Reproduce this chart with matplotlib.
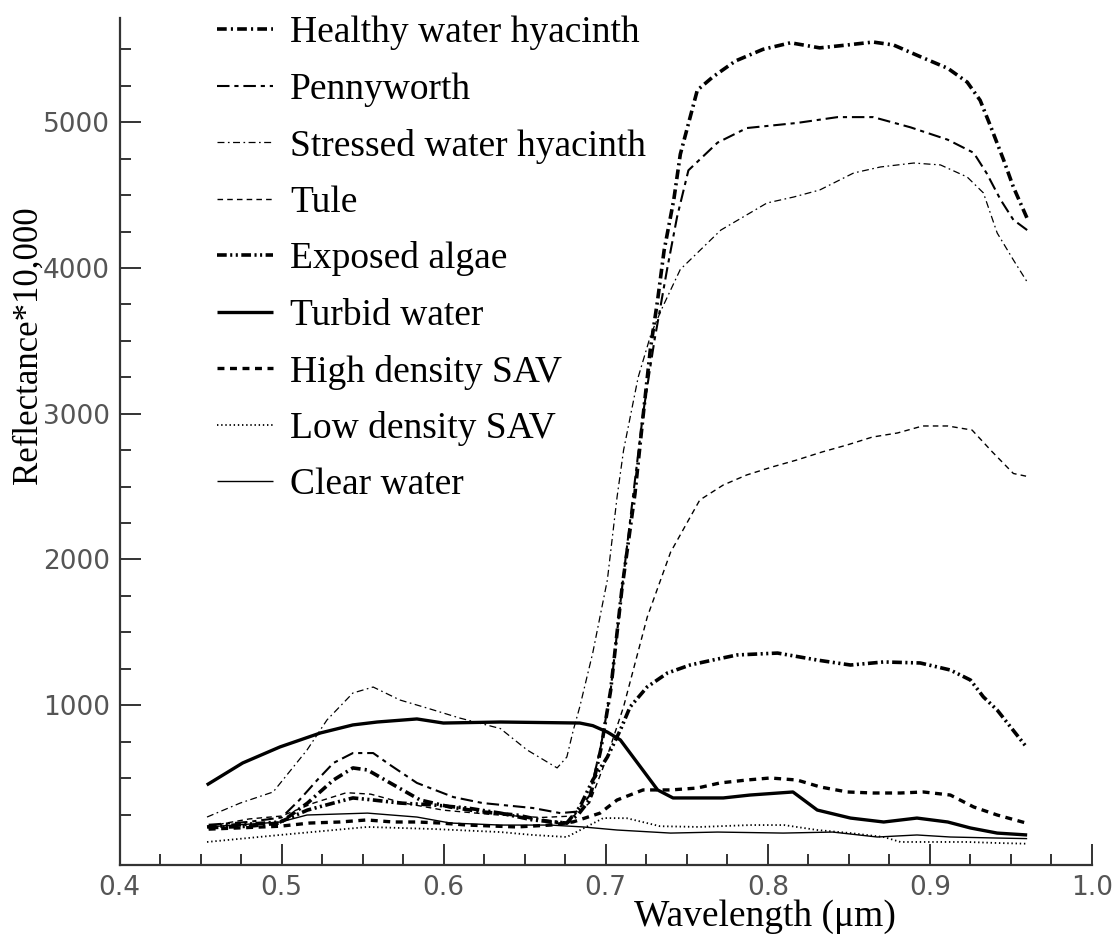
import matplotlib
matplotlib.use("Agg")
import matplotlib.pyplot as plt
from matplotlib.ticker import MultipleLocator, FixedLocator

plt.rcParams['lines.scale_dashes'] = False

# ---------------- data (wavelength in um, reflectance*10,000) ----------------
hwh_w = [0.455, 0.48, 0.499, 0.516, 0.532, 0.544, 0.553, 0.567, 0.5855, 0.604, 0.624, 0.645, 0.666, 0.676, 0.683,
         0.69, 0.697, 0.703, 0.71, 0.718, 0.723, 0.7275, 0.732, 0.736, 0.742, 0.746, 0.7565, 0.766, 0.78, 0.797,
         0.814, 0.832, 0.849, 0.865, 0.8775, 0.894, 0.911, 0.923, 0.931, 0.9375, 0.9455, 0.9515, 0.96]
hwh_v = [160, 170, 192, 329, 487, 570, 556, 467, 350, 302, 268, 247, 199, 192, 250,
         350, 700, 1100, 1800, 2450, 2980, 3440, 3780, 4120, 4470, 4780, 5220, 5310, 5420, 5500,
         5545, 5510, 5530, 5550, 5530, 5450, 5370, 5275, 5150, 4970, 4740, 4555, 4340]

pen_w = [0.455, 0.48, 0.5, 0.511, 0.522, 0.532, 0.544, 0.5565, 0.567, 0.5835, 0.606, 0.624, 0.655, 0.672, 0.682,
         0.69, 0.697, 0.703, 0.71, 0.717, 0.723, 0.73, 0.738, 0.744, 0.751, 0.769, 0.787, 0.818, 0.843, 0.865,
         0.888, 0.911, 0.927, 0.935, 0.9435, 0.9515, 0.96]
pen_v = [180, 200, 230, 350, 487, 604, 672, 672, 590, 467, 370, 329, 295, 260, 270,
         380, 720, 1100, 1800, 2450, 3000, 3500, 4000, 4350, 4670, 4860, 4960, 4995, 5035, 5035,
         4965, 4880, 4790, 4650, 4470, 4330, 4260]

swh_w = [0.454, 0.4745, 0.4948, 0.5157, 0.528, 0.544, 0.5565, 0.573, 0.5897, 0.61, 0.635, 0.6515, 0.67, 0.676,
         0.68, 0.684, 0.692, 0.701, 0.707, 0.711, 0.72, 0.728, 0.735, 0.746, 0.771, 0.7995, 0.816, 0.832, 0.853,
         0.8695, 0.89, 0.9065, 0.923, 0.933, 0.9415, 0.9515, 0.96]
swh_v = [233, 329, 405, 693, 899, 1084, 1125, 1036, 981, 912, 840, 693, 570, 645,
         830, 990, 1360, 1860, 2430, 2750, 3250, 3550, 3730, 3990, 4260, 4446, 4487, 4535, 4652,
         4693, 4720, 4707, 4624, 4515, 4240, 4055, 3904]

tule_w = [0.455, 0.48, 0.5, 0.52, 0.54, 0.555, 0.575, 0.6, 0.63, 0.66, 0.68, 0.69, 0.70, 0.711, 0.7256, 0.74,
          0.758, 0.7725, 0.787, 0.8027, 0.818, 0.8336, 0.849, 0.8645, 0.88, 0.8955, 0.911, 0.926, 0.9385,
          0.9515, 0.96]
tule_v = [170, 220, 240, 330, 400, 390, 330, 280, 250, 230, 240, 330, 620, 990, 1605, 2050,
          2408, 2511, 2580, 2635, 2683, 2738, 2786, 2840, 2868, 2916, 2916, 2888, 2738,
          2590, 2570]

alg_w = [0.454, 0.499, 0.516, 0.532, 0.544, 0.5565, 0.573, 0.5935, 0.6145, 0.635, 0.655, 0.676, 0.684, 0.692,
         0.701, 0.709, 0.715, 0.7255, 0.738, 0.752, 0.766, 0.781, 0.806, 0.8305, 0.851, 0.8715, 0.894, 0.9125,
         0.925, 0.933, 0.9415, 0.96]
alg_v = [165, 199, 281, 329, 364, 350, 329, 316, 295, 260, 213, 192, 302, 487,
         645, 830, 988, 1125, 1221, 1276, 1310, 1345, 1358, 1310, 1276, 1297, 1290, 1242,
         1173, 1057, 967, 707]

turb_w = [0.4538, 0.476, 0.499, 0.524, 0.544, 0.559, 0.5835, 0.5998, 0.635, 0.684, 0.692, 0.701, 0.709, 0.732,
          0.7415, 0.7725, 0.789, 0.8155, 0.8305, 0.851, 0.8715, 0.892, 0.911, 0.925, 0.9415, 0.96]
turb_v = [453, 604, 714, 810, 865, 885, 906, 878, 885, 878, 860, 816, 762, 419,
          364, 364, 384, 405, 281, 226, 199, 226, 199, 158, 123, 110]

hsav_w = [0.455, 0.499, 0.5175, 0.536, 0.5525, 0.569, 0.5835, 0.598, 0.6145, 0.645, 0.666, 0.68, 0.6965, 0.707,
          0.723, 0.74, 0.7565, 0.7705, 0.787, 0.8015, 0.818, 0.8325, 0.849, 0.865, 0.8818, 0.896, 0.9126, 0.927,
          0.9415, 0.96]
hsav_v = [150, 170, 192, 199, 213, 199, 199, 192, 178, 165, 178, 200, 260, 350,
          419, 419, 432, 467, 487, 501, 487, 439, 405, 398, 398, 405, 384, 302,
          247, 190]

lsav_w = [0.454, 0.499, 0.553, 0.5935, 0.635, 0.655, 0.676, 0.6985, 0.713, 0.7335, 0.758, 0.789, 0.81, 0.8305,
          0.851, 0.8715, 0.8818, 0.902, 0.923, 0.9415, 0.96]
lsav_v = [62, 110, 165, 151, 130, 110, 96, 226, 225, 170, 165, 178, 178, 144,
          123, 96, 62, 62, 62, 55, 50]

clr_w = [0.454, 0.4993, 0.5157, 0.553, 0.5835, 0.604, 0.635, 0.666, 0.686, 0.707, 0.74, 0.769, 0.8095, 0.84,
         0.8675, 0.892, 0.9126, 0.9415, 0.96]
clr_v = [165, 199, 247, 260, 233, 192, 178, 178, 165, 144, 123, 130, 123, 130,
         96, 110, 96, 89, 85]

labels = ["Healthy water hyacinth", "Pennyworth", "Stressed water hyacinth", "Tule", "Exposed algae",
          "Turbid water", "High density SAV", "Low density SAV", "Clear water"]

x_ticks = [0.4, 0.5, 0.6, 0.7, 0.8, 0.9, 1.0]
x_tick_labels = ["0.4", "0.5", "0.6", "0.7", "0.8", "0.9", "1.0"]
y_ticks = [1000, 2000, 3000, 4000, 5000]
y_tick_labels = ["1000", "2000", "3000", "4000", "5000"]

# ---------------- styles ----------------
series = [
    (hwh_w, hwh_v, dict(lw=2.6, ls=(0, (7, 3, 1.5, 3)))),
    (pen_w, pen_v, dict(lw=1.5, ls=(0, (9, 3.5, 3, 3.5)))),
    (swh_w, swh_v, dict(lw=0.9, ls=(0, (5, 2.5, 1.2, 2.5)))),
    (tule_w, tule_v, dict(lw=1.0, ls=(0, (4, 3)))),
    (alg_w, alg_v, dict(lw=2.6, ls=(0, (7, 2.5, 1.5, 2.5, 1.5, 2.5)))),
    (turb_w, turb_v, dict(lw=2.4, ls='-')),
    (hsav_w, hsav_v, dict(lw=2.4, ls=(0, (5, 4)))),
    (lsav_w, lsav_v, dict(lw=1.3, ls=(0, (1, 2)))),
    (clr_w, clr_v, dict(lw=1.0, ls='-')),
]

fig = plt.figure(figsize=(11.14, 9.41), dpi=100)
ax = fig.add_axes([119.5 / 1114, 1 - 865 / 941, (1092 - 119.5) / 1114, (865 - 18) / 941])

handles = []
for (w, v, st), lab in zip(series, labels):
    h, = ax.plot(w, v, color='black', label=lab, solid_capstyle='butt', dash_capstyle='butt', **st)
    handles.append(h)

ax.set_xlim(0.4, 1.0)
ax.set_ylim(-96, 5715)

for s in ['top', 'right']:
    ax.spines[s].set_visible(False)
for s in ['left', 'bottom']:
    ax.spines[s].set_linewidth(1.6)
    ax.spines[s].set_color('#333333')

ax.xaxis.set_major_locator(FixedLocator(x_ticks))
ax.set_xticklabels(x_tick_labels)
ax.xaxis.set_minor_locator(MultipleLocator(0.025))
ax.yaxis.set_major_locator(FixedLocator(y_ticks))
ax.set_yticklabels(y_tick_labels)
ax.yaxis.set_minor_locator(FixedLocator([v for v in range(250, 5751, 250) if v % 1000 != 0]))

ax.tick_params(which='major', direction='in', length=15, width=1.4, color='#333333',
               labelsize=19, labelcolor='#555555', pad=7)
ax.tick_params(which='minor', direction='in', length=8, width=1.4, color='#333333')
for t in ax.get_xticklabels() + ax.get_yticklabels():
    t.set_fontfamily('DejaVu Sans')

serif = 'Liberation Serif'
fig.text(765 / 1114, 1 - 917 / 941, "Wavelength (\u03bcm)", fontsize=27, family=serif,
         ha='center', va='center')
fig.text(28 / 1114, 1 - 345 / 941, "Reflectance*10,000", fontsize=25, family=serif,
         ha='center', va='center', rotation=90)

leg = ax.legend(handles=handles, loc='upper left', bbox_to_anchor=(217 / 1114, 1 - 16 / 941),
                bbox_transform=fig.transFigure, frameon=False,
                prop={'family': serif, 'size': 27}, handlelength=1.5, handletextpad=0.45,
                labelspacing=0.58, borderaxespad=0, borderpad=0)

fig.savefig("out.png", dpi=100)
